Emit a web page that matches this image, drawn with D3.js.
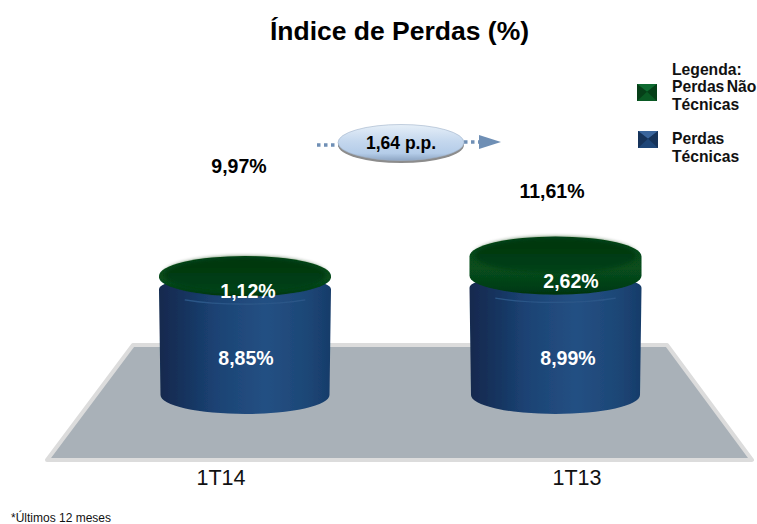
<!DOCTYPE html>
<html><head><meta charset="utf-8">
<style>html,body{margin:0;padding:0;background:#fff}svg{display:block}text{font-family:"Liberation Sans",Arial,sans-serif}</style>
<script src="https://cdn.jsdelivr.net/npm/d3@7"></script></head>
<body><script>
const categories = ["1T14","1T13"];
const perdasTecnicas = [8.85,8.99];
const perdasNaoTecnicas = [1.12,2.62];
const totals = [9.97,11.61];
const deltaLabel = "1,64 p.p.";
const titleText = "Índice de Perdas (%)";
const footnote = "*Últimos 12 meses";

const W=757,H=524;
const svg=d3.select("body").append("svg").attr("width",W).attr("height",H);
const defs=svg.append("defs");
const fmt=v=>d3.format(".2f")(v).replace(".",",")+"%";

function hGrad(id,stops){const g=defs.append("linearGradient").attr("id",id);
  stops.forEach(s=>g.append("stop").attr("offset",s[0]).attr("stop-color",s[1]));}
function vGrad(id,stops){const g=defs.append("linearGradient").attr("id",id).attr("x1",0).attr("x2",0).attr("y1",0).attr("y2",1);
  stops.forEach(s=>g.append("stop").attr("offset",s[0]).attr("stop-color",s[1]));}
hGrad("blueSide",[[0,"#12294e"],[.1,"#142f58"],[.32,"#1b4273"],[.62,"#245083"],[.85,"#1d4777"],[1,"#173c6a"]]);
vGrad("greenSide",[[0,"#06481a"],[.55,"#074d1d"],[.85,"#053f16"],[1,"#03330f"]]);
vGrad("greenTop",[[0,"#033711"],[.7,"#033d12"],[1,"#054518"]]);
vGrad("pill",[[0,"#e6eff8"],[.45,"#c5d8ee"],[.8,"#b4cce8"],[1,"#8ea6c4"]]);
defs.append("filter").attr("id","soft").attr("x","-10%").attr("y","-20%").attr("width","120%").attr("height","140%")
  .append("feGaussianBlur").attr("stdDeviation",0.7);
defs.append("filter").attr("id","soft2").attr("x","-10%").attr("y","-20%").attr("width","120%").attr("height","140%")
  .append("feGaussianBlur").attr("stdDeviation",2);

// floor
const floor=[[133,345],[667,345],[752,460],[47,460]];
svg.append("polygon").attr("points",floor.join(" ")).attr("fill","#a9b1b8")
  .attr("stroke","#dcdcdc").attr("stroke-width",4).attr("stroke-linejoin","round");

const x=d3.scalePoint().domain(categories).range([245,555.5]);
const y=d3.scaleLinear().domain([0,11.61]).range([395,256.4]);
const halfW=86, ryB=19, ryT=20, ryBlue=15;

function cyl(cx,top,bot,ryTop,ryBot,hw,inset){
  const h=hw-inset;
  return `M${cx-hw},${top}L${cx-h},${bot}A${h},${ryBot} 0 0 0 ${cx+h},${bot}L${cx+hw},${top}A${hw},${ryTop} 0 0 0 ${cx-hw},${top}Z`;
}
const g=svg.selectAll("g.cyl").data(categories).join("g").attr("class","cyl");
g.each(function(c,i){
  const s=d3.select(this),cx=x(c);
  const blueTop=y(perdasTecnicas[i]), capTop=y(totals[i]);
  s.append("path").attr("d",cyl(cx,blueTop,y(0),ryBlue,ryB,halfW,1.5)).attr("fill","url(#blueSide)").attr("filter","url(#soft)");
  s.append("path").attr("d",`M${cx-halfW*.7},${blueTop+10.5}A${halfW},${ryBlue} 0 0 0 ${cx+halfW*.7},${blueTop+10.5}`)
    .attr("fill","none").attr("stroke","#2c5788").attr("stroke-width",1.2).attr("filter","url(#soft)");
  const capBot=blueTop-12;
  s.append("path").attr("d",cyl(cx,capTop,capBot,ryT,ryT-1,halfW,0)).attr("fill","url(#greenSide)").attr("filter","url(#soft)");
  s.append("ellipse").attr("cx",cx).attr("cy",capTop-1).attr("rx",halfW-5).attr("ry",ryT-2)
    .attr("fill","url(#greenTop)").attr("filter","url(#soft2)");
  s.append("text").attr("x",cx+(i?15.5:3)).attr("y",i?288:298)
    .attr("text-anchor","middle").attr("font-size",19.5).attr("font-weight","bold").attr("fill","#fff").text(fmt(perdasNaoTecnicas[i]));
  s.append("text").attr("x",cx+(i?12.5:1)).attr("y",365)
    .attr("text-anchor","middle").attr("font-size",19.5).attr("font-weight","bold").attr("fill","#fff").text(fmt(perdasTecnicas[i]));
  s.append("text").attr("x",cx+(i?-3.5:-6)).attr("y",i?198:173)
    .attr("text-anchor","middle").attr("font-size",19.5).attr("font-weight","bold").attr("fill","#000").text(fmt(totals[i]));
  s.append("text").attr("x",cx+(i?21.5:-24)).attr("y",485)
    .attr("text-anchor","middle").attr("font-size",21.5).attr("fill","#111").text(c);
});

// title
svg.append("text").attr("x",399.5).attr("y",40).attr("text-anchor","middle")
  .attr("font-size",26.5).attr("font-weight","bold").attr("fill","#000").text(titleText);

// arrow
const dotsY=145;
svg.append("line").attr("x1",317).attr("x2",340).attr("y1",dotsY).attr("y2",dotsY)
  .attr("stroke","#6f8fb5").attr("stroke-width",3.5).attr("stroke-dasharray","3.5 3.5");
svg.append("line").attr("x1",464).attr("x2",480).attr("y1",dotsY-3).attr("y2",dotsY-3)
  .attr("stroke","#6f8fb5").attr("stroke-width",3.5).attr("stroke-dasharray","3.5 3.5");
svg.append("path").attr("d","M479,135L501,142L479,149Z").attr("fill","#6f8fb5");
svg.append("ellipse").attr("cx",401).attr("cy",145).attr("rx",63).attr("ry",18).attr("fill","#8c8c8c").attr("filter","url(#soft)");
svg.append("ellipse").attr("cx",401).attr("cy",142.5).attr("rx",63).attr("ry",18).attr("fill","url(#pill)").attr("stroke","#9fb2c9").attr("stroke-width",.6);
svg.append("text").attr("x",401).attr("y",149).attr("text-anchor","middle").attr("font-size",17.5).attr("font-weight","bold").attr("fill","#000").text(deltaLabel);

// legend
function bevel(xx,yy,w,h,base,light,dark){
  const s=svg.append("g");
  s.append("rect").attr("x",xx).attr("y",yy).attr("width",w).attr("height",h).attr("fill",base);
  s.append("path").attr("d",`M${xx},${yy}L${xx+w},${yy}L${xx+w/2},${yy+h*.45}Z`).attr("fill",light);
  s.append("path").attr("d",`M${xx},${yy}L${xx+w/2},${yy+h*.45}L${xx},${yy+h}Z`).attr("fill",dark);
  s.append("path").attr("d",`M${xx+w},${yy}L${xx+w/2},${yy+h*.45}L${xx+w},${yy+h}Z`).attr("fill",dark);
}
bevel(637,84,20,17,"#0a5a24","#0e6a30","#063f18");
bevel(638,131,20,17,"#1e4678","#3a659c","#16335a");
const legendLines=[["Legenda:",75],["Perdas Não",92],["Técnicas",110],["Perdas",144],["Técnicas",162]];
svg.selectAll("text.leg").data(legendLines).join("text").attr("class","leg")
  .attr("x",672).attr("y",d=>d[1]).attr("font-size",15.7).attr("font-weight","bold").attr("word-spacing",-2).attr("fill","#111").text(d=>d[0]);

svg.append("text").attr("x",11).attr("y",522).attr("font-size",12).attr("fill","#111").text(footnote);
</script></body></html>
